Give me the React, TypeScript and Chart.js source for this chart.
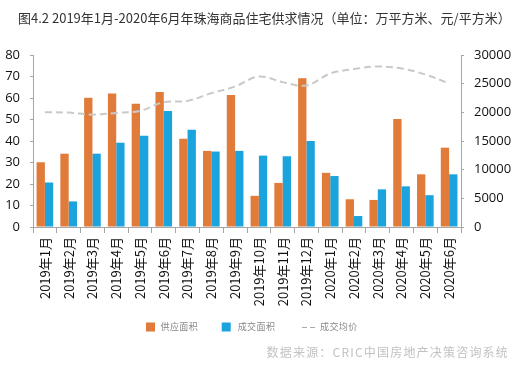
import React, { useEffect, useRef } from "react";
import { Chart, registerables } from "chart.js";

Chart.register(...registerables);

const TITLE = "图4.2 2019年1月-2020年6月年珠海商品住宅供求情况（单位：万平方米、元/平方米）";
const SOURCE = "数据来源：CRIC中国房地产决策咨询系统";

const categories = [
  "2019年1月", "2019年2月", "2019年3月", "2019年4月", "2019年5月", "2019年6月",
  "2019年7月", "2019年8月", "2019年9月", "2019年10月", "2019年11月", "2019年12月",
  "2020年1月", "2020年2月", "2020年3月", "2020年4月", "2020年5月", "2020年6月",
];
const supplyArea = [30.1, 34.1, 60.1, 62.1, 57.3, 62.8, 41.0, 35.4, 61.4, 14.5, 20.5, 69.2, 25.2, 12.9, 12.6, 50.2, 24.5, 36.9];
const dealArea = [20.7, 11.9, 34.1, 39.2, 42.5, 53.9, 45.2, 35.1, 35.4, 33.2, 32.9, 40.0, 23.7, 5.1, 17.5, 18.9, 14.8, 24.5];
const avgPrice = [20000, 19950, 19600, 19900, 20250, 21770, 22000, 23350, 24500, 26250, 25270, 24680, 26780, 27550, 28000, 27650, 26600, 25030];
const leftTicks = [0, 10, 20, 30, 40, 50, 60, 70, 80];
const rightTicks = [0, 5000, 10000, 15000, 20000, 25000, 30000];
const seriesNames = ["供应面积", "成交面积", "成交均价"];

const ORANGE = "#E07B39";
const BLUE = "#1BA3DD";
const GRAY_LINE = "#C9C9C9";
const FONT = "'Open Sans', 'Noto Sans CJK SC', sans-serif";
const CJK = "'Noto Sans CJK SC', 'Open Sans', sans-serif";

const decorPlugin = {
  id: "decor",
  afterDraw(chart: any) {
    const ctx = chart.ctx as CanvasRenderingContext2D;
    ctx.save();
    // title
    ctx.font = `13px ${CJK}`;
    ctx.fillStyle = "#333333";
    ctx.textAlign = "left";
    ctx.textBaseline = "middle";
    ctx.fillText(TITLE, 18, 18);

    // legend
    ctx.font = `9px ${CJK}`;
    (ctx as any).letterSpacing = "0.4px";
    const ly = 327;
    ctx.fillStyle = ORANGE;
    ctx.fillRect(146, ly - 4.5, 9, 9);
    ctx.fillStyle = "#888888";
    ctx.fillText(seriesNames[0], 160.5, ly);
    ctx.fillStyle = BLUE;
    ctx.fillRect(221.7, ly - 4.5, 9, 9);
    ctx.fillStyle = "#888888";
    ctx.fillText(seriesNames[1], 237.7, ly);
    ctx.strokeStyle = "#AAAAAA";
    ctx.lineWidth = 1;
    ctx.setLineDash([5, 3]);
    ctx.beginPath();
    ctx.moveTo(302, ly + 0.5);
    ctx.lineTo(317, ly + 0.5);
    ctx.stroke();
    ctx.setLineDash([]);
    ctx.fillText(seriesNames[2], 320, ly);

    // source
    ctx.font = `12px ${CJK}`;
    (ctx as any).letterSpacing = "1.2px";
    ctx.fillStyle = "#C2C2C2";
    ctx.textAlign = "right";
    ctx.fillText(SOURCE, 509, 352);
    ctx.restore();
  },
};

export default function App() {
  const ref = useRef<HTMLCanvasElement | null>(null);
  useEffect(() => {
    document.body.style.margin = "0";
    document.body.style.background = "#ffffff";
    const canvas = ref.current!;
    const chart = new Chart(canvas, {
      type: "bar",
      data: {
        labels: categories,
        datasets: [
          {
            type: "bar",
            label: seriesNames[0],
            data: supplyArea,
            backgroundColor: ORANGE,
            yAxisID: "y",
            order: 2,
            categoryPercentage: 0.7,
            barPercentage: 1,
          },
          {
            type: "bar",
            label: seriesNames[1],
            data: dealArea,
            backgroundColor: BLUE,
            yAxisID: "y",
            order: 2,
            categoryPercentage: 0.7,
            barPercentage: 1,
          },
          {
            type: "line",
            label: seriesNames[2],
            data: avgPrice,
            borderColor: GRAY_LINE,
            borderWidth: 2,
            borderDash: [7, 4],
            pointRadius: 0,
            tension: 0.35,
            fill: false,
            yAxisID: "y1",
            order: 0,
          } as any,
        ],
      },
      options: {
        responsive: false,
        animation: false,
        devicePixelRatio: 1,
        layout: { padding: { top: 55, left: 0, right: 0, bottom: 56 } },
        plugins: {
          legend: { display: false },
          title: { display: false },
          tooltip: { enabled: false },
        },
        scales: {
          x: {
            offset: true,
            grid: {
              offset: true,
              drawOnChartArea: false,
              drawTicks: true,
              tickLength: 6,
              color: "#A6A6A6",
            },
            border: { color: "#A6A6A6" },
            ticks: {
              autoSkip: false,
              maxRotation: 90,
              minRotation: 90,
              padding: 4,
              color: "#111111",
              font: { family: CJK, size: 13 },
            },
            afterFit(scale: any) {
              scale.height = 90;
            },
          },
          y: {
            position: "left",
            min: 0,
            max: 80,
            afterBuildTicks(scale: any) {
              scale.ticks = leftTicks.map((v) => ({ value: v }));
            },
            grid: { drawOnChartArea: false, tickLength: 3, color: "#A6A6A6" },
            border: { color: "#A6A6A6" },
            ticks: {
              padding: 10,
              color: "#111111",
              font: { family: FONT, size: 13 },
              callback: (v: any) => String(v),
            },
            afterFit(scale: any) {
              scale.width = 33;
            },
          },
          y1: {
            position: "right",
            min: 0,
            max: 30000,
            afterBuildTicks(scale: any) {
              scale.ticks = rightTicks.map((v) => ({ value: v }));
            },
            grid: { drawOnChartArea: false, tickLength: 3, color: "#A6A6A6" },
            border: { color: "#A6A6A6" },
            ticks: {
              padding: 10,
              color: "#111111",
              font: { family: FONT, size: 13 },
              callback: (v: any) => String(v),
            },
            afterFit(scale: any) {
              scale.width = 57;
            },
          },
        },
      },
      plugins: [decorPlugin],
    });
    return () => chart.destroy();
  }, []);
  return (
    <div style={{ width: 518, height: 373, position: "relative", background: "#fff" }}>
      <canvas ref={ref} width={518} height={373} style={{ display: "block" }} />
    </div>
  );
}
